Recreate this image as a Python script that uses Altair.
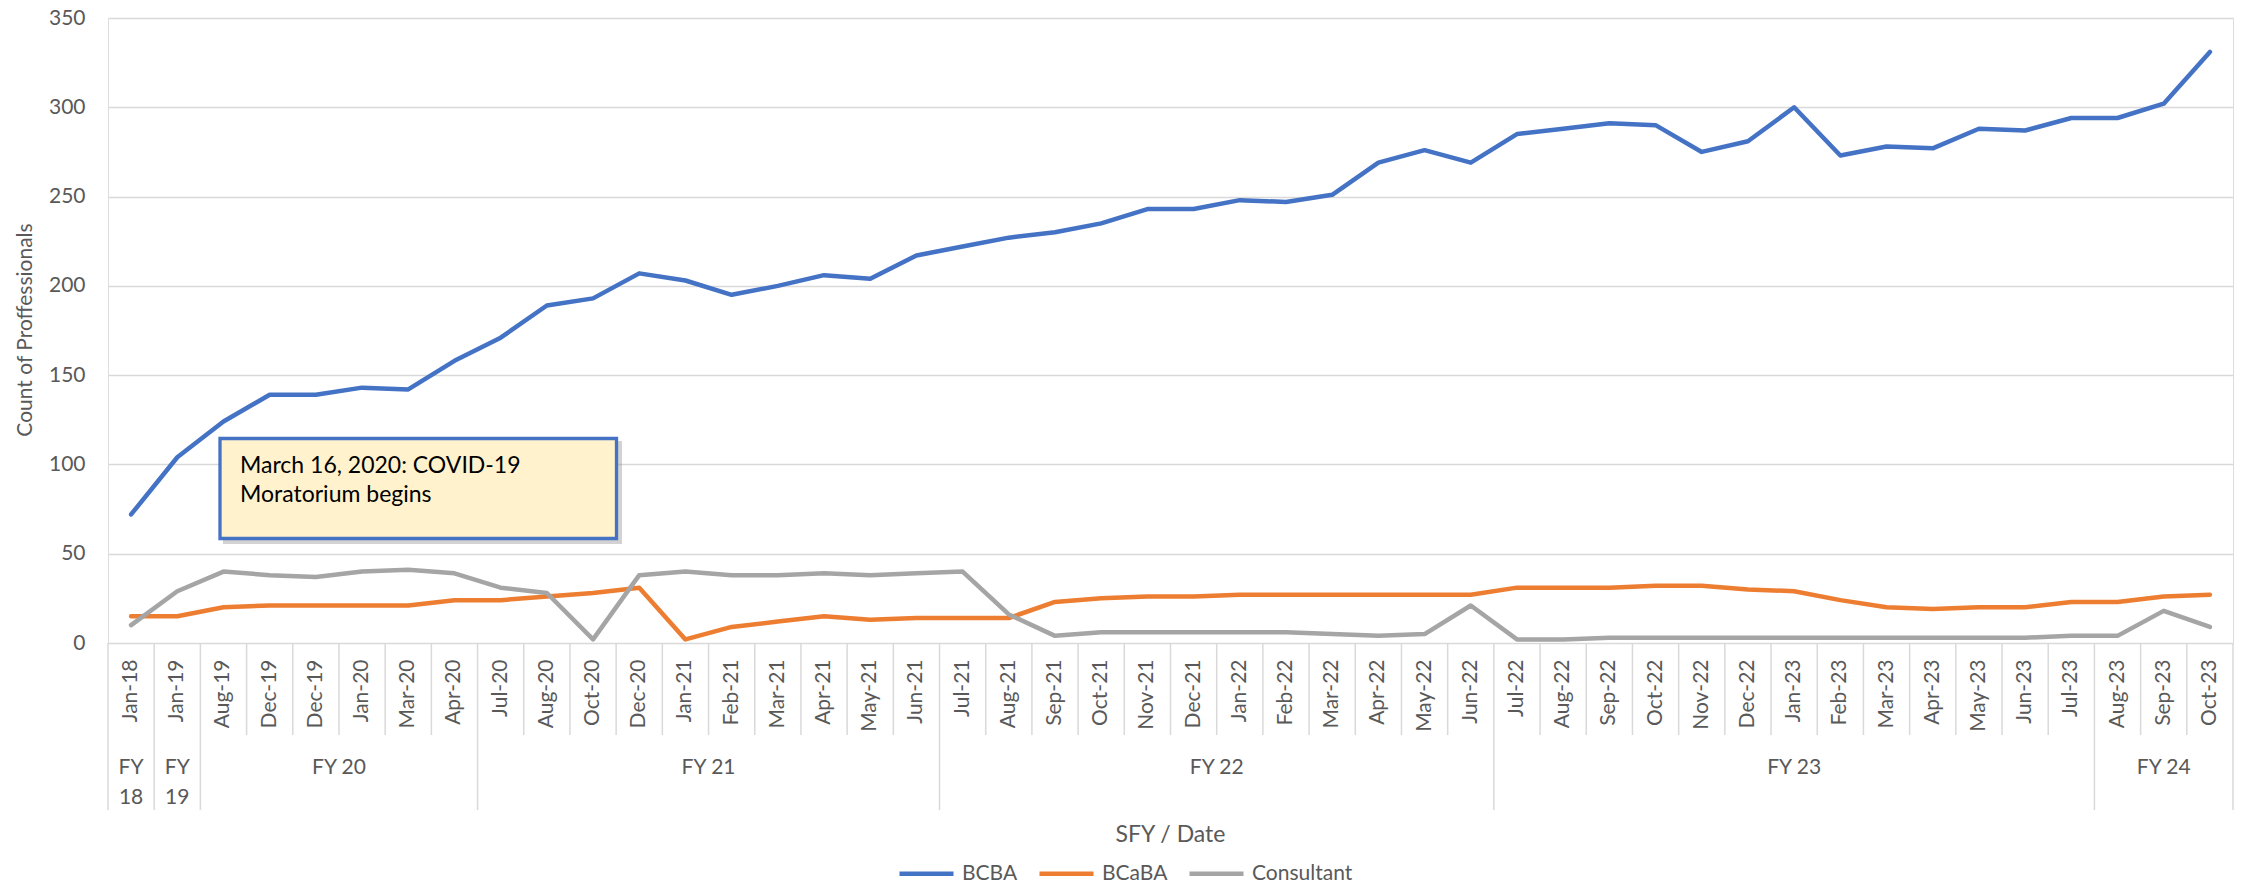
import altair as alt
import pandas as pd

months = ["Jan-18","Jan-19","Aug-19","Dec-19","Dec-19","Jan-20","Mar-20","Apr-20",
          "Jul-20","Aug-20","Oct-20","Dec-20","Jan-21","Feb-21","Mar-21","Apr-21","May-21","Jun-21",
          "Jul-21","Aug-21","Sep-21","Oct-21","Nov-21","Dec-21","Jan-22","Feb-22","Mar-22","Apr-22","May-22","Jun-22",
          "Jul-22","Aug-22","Sep-22","Oct-22","Nov-22","Dec-22","Jan-23","Feb-23","Mar-23","Apr-23","May-23","Jun-23","Jul-23",
          "Aug-23","Sep-23","Oct-23"]

bcba = [72,104,124,139,139,143,142,158,
        171,189,193,207,203,195,200,206,204,217,
        222,227,230,235,243,243,248,247,251,269,276,269,
        285,288,291,290,275,281,300,273,278,277,288,287,294,
        294,302,331]

bcaba = [15,15,20,21,21,21,21,24,
         24,26,28,31,2,9,12,15,13,14,
         14,14,23,25,26,26,27,27,27,27,27,27,
         31,31,31,32,32,30,29,24,20,19,20,20,23,
         23,26,27]

consultant = [10,29,40,38,37,40,41,39,
              31,28,2,38,40,38,38,39,38,39,
              40,16,4,6,6,6,6,6,5,4,5,21,
              2,2,3,3,3,3,3,3,3,3,3,3,4,
              4,18,9]

series_names = ["BCBA", "BCaBA", "Consultant"]
series_colors = ["#4472C4", "#ED7D31", "#A5A5A5"]

fy_labels = ["FY 18", "FY 19", "FY 20", "FY 21", "FY 22", "FY 23", "FY 24"]
fy_sizes = [1, 1, 6, 10, 12, 13, 3]

annotation_lines = ["March 16, 2020: COVID-19", "Moratorium begins"]
y_title = "Count of Proffessionals"
x_title = "SFY / Date"

FONT = "Lato"
GRAY = "#595959"
GRID = "#D9D9D9"
W, H = 2125, 625
N = len(months)
XDOM = [-0.5, N - 0.5]

# ---- tables built from the arrays ----
rows = []
for name, vals in zip(series_names, [bcba, bcaba, consultant]):
    for i, (m, v) in enumerate(zip(months, vals)):
        rows.append({"idx": i, "month": m, "series": name, "value": v})
df = pd.DataFrame(rows)

month_df = pd.DataFrame({"idx": list(range(N)), "month": months})

starts = []
s = 0
for size in fy_sizes:
    starts.append(s)
    s += size
fy_df = pd.DataFrame({
    "center": [st + (sz - 1) / 2 for st, sz in zip(starts, fy_sizes)],
    "label": [lab.replace(" ", "\n") if sz == 1 else lab for lab, sz in zip(fy_labels, fy_sizes)],
})
long_b = set(starts + [N])
short_df = pd.DataFrame({"b": [k - 0.5 for k in range(N + 1) if k not in long_b]})
long_df = pd.DataFrame({"b": [k - 0.5 for k in sorted(long_b)]})

xscale = alt.Scale(domain=XDOM, nice=False, zero=False)

lines = alt.Chart(df).mark_line(strokeWidth=4.5, strokeCap="round", strokeJoin="round").encode(
    x=alt.X("idx:Q", scale=xscale, axis=None),
    y=alt.Y("value:Q", scale=alt.Scale(domain=[0, 350], nice=False),
            axis=alt.Axis(values=list(range(0, 351, 50)), grid=True, gridColor=GRID, gridWidth=1.5,
                          domain=False, ticks=False, labelFontSize=21, labelFont=FONT,
                          labelColor=GRAY, labelPadding=23, title=None)),
    color=alt.Color("series:N", scale=alt.Scale(domain=series_names, range=series_colors),
                    legend=alt.Legend(orient="none", legendX=789, legendY=826, direction="horizontal",
                                      title=None, symbolType="stroke", symbolSize=2916,
                                      symbolStrokeWidth=4.5, labelFontSize=21, labelFont=FONT,
                                      labelColor=GRAY, columnPadding=12, labelOffset=6, padding=0)),
    order=alt.Order("idx:Q"),
)

month_labels = alt.Chart(month_df).mark_text(angle=270, align="right", baseline="middle",
                                             fontSize=21, font=FONT, color=GRAY).encode(
    x=alt.X("idx:Q", scale=xscale, axis=None),
    y=alt.value(H + 16.5),
    text="month:N",
)

short_rules = alt.Chart(short_df).mark_rule(color=GRID, strokeWidth=1.5).encode(
    x=alt.X("b:Q", scale=xscale, axis=None),
    y=alt.value(H), y2=alt.value(H + 92),
)
long_rules = alt.Chart(long_df).mark_rule(color=GRID, strokeWidth=1.5).encode(
    x=alt.X("b:Q", scale=xscale, axis=None),
    y=alt.value(H), y2=alt.value(H + 167),
)

fy_text = alt.Chart(fy_df).mark_text(align="center", baseline="alphabetic", fontSize=21, font=FONT,
                                     color=GRAY, lineBreak="\n", lineHeight=30).encode(
    x=alt.X("center:Q", scale=xscale, axis=None),
    y=alt.value(H + 131),
    text="label:N",
)

title_df = pd.DataFrame({"t": [y_title]})
ytitle = alt.Chart(title_df).mark_text(angle=270, align="center", baseline="middle", fontSize=21,
                                       font=FONT, color=GRAY).encode(
    x=alt.value(-82), y=alt.value(312), text="t:N")

xt_df = pd.DataFrame({"t": [x_title]})
xtitle = alt.Chart(xt_df).mark_text(align="center", baseline="alphabetic", fontSize=23,
                                    font=FONT, color=GRAY).encode(
    x=alt.value(W / 2), y=alt.value(824), text="t:N")

ann_df = pd.DataFrame({"t": ["\n".join(annotation_lines)]})
shadow = alt.Chart(ann_df).mark_rect(fill="#7f7f7f", opacity=0.35).encode(
    x=alt.value(115), x2=alt.value(514), y=alt.value(423), y2=alt.value(526))
box = alt.Chart(ann_df).mark_rect(fill="#FFF2CC", stroke="#4472C4", strokeWidth=3.3).encode(
    x=alt.value(112), x2=alt.value(508.5), y=alt.value(420.5), y2=alt.value(520.5))
ann_text = alt.Chart(ann_df).mark_text(align="left", baseline="alphabetic", fontSize=23, font=FONT,
                                       color="#000000", lineBreak="\n", lineHeight=29).encode(
    x=alt.value(132), y=alt.value(455), text="t:N")

chart = alt.layer(
    short_rules, long_rules, lines, month_labels, fy_text, ytitle, xtitle, shadow, box, ann_text
).properties(
    width=W, height=H,
    padding={"left": 100, "top": 10, "right": 3, "bottom": 242},
    autosize=alt.AutoSizeParams(type="none"),
).configure_view(stroke=None).configure(font=FONT)

chart.save("out.html", embed_options={"renderer": "svg", "actions": False})
